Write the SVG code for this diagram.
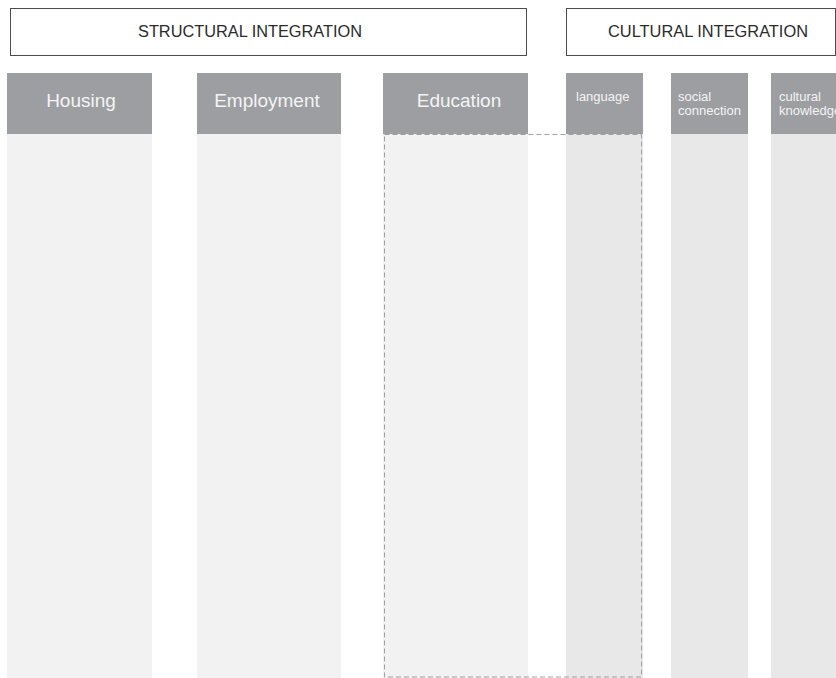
<svg xmlns="http://www.w3.org/2000/svg" width="836" height="678" viewBox="0 0 836 678">
<style>
.band{fill:#ffffff;stroke:#4d4d4d;stroke-width:1}
.bandText{font-family:"Liberation Sans",Arial,sans-serif;font-size:16px;fill:#2b2b2b;text-anchor:middle}
.head{fill:#9d9ea1}
.bodyA{fill:#f2f2f2}
.bodyB{fill:#e8e8e8}
.big{font-family:"Liberation Sans",Arial,sans-serif;font-size:19px;fill:#f4f4f4;text-anchor:middle}
.small{font-family:"Liberation Sans",Arial,sans-serif;font-size:13px;fill:#f4f4f4}
.dash{fill:none;stroke:#a0a0a0;stroke-width:1;stroke-dasharray:5 3}
</style>
<rect width="836" height="678" fill="#ffffff"/>
<g id="structural-integration">
<rect class="band" x="10.5" y="8.5" width="516" height="47"/>
<text class="bandText" x="250" y="37" textLength="224" lengthAdjust="spacingAndGlyphs">STRUCTURAL INTEGRATION</text>
</g>
<g id="cultural-integration">
<rect class="band" x="566.5" y="8.5" width="269" height="47"/>
<text class="bandText" x="708" y="37" textLength="200" lengthAdjust="spacingAndGlyphs">CULTURAL INTEGRATION</text>
</g>
<g id="housing">
<rect class="bodyA" x="7" y="134" width="145" height="544"/>
<rect class="head" x="7" y="73" width="145" height="61"/>
<text class="big" x="81" y="107">Housing</text>
</g>
<g id="employment">
<rect class="bodyA" x="197" y="134" width="144" height="544"/>
<rect class="head" x="197" y="73" width="144" height="61"/>
<text class="big" x="267" y="107">Employment</text>
</g>
<g id="education">
<rect class="bodyA" x="383" y="134" width="145" height="544"/>
<rect class="head" x="383" y="73" width="145" height="61"/>
<text class="big" x="459" y="107">Education</text>
</g>
<g id="language">
<rect class="bodyB" x="566" y="134" width="77" height="544"/>
<rect class="head" x="566" y="73" width="77" height="61"/>
<text class="small" x="576" y="101">language</text>
</g>
<g id="social-connection">
<rect class="bodyB" x="671" y="134" width="77" height="544"/>
<rect class="head" x="671" y="73" width="77" height="61"/>
<text class="small" x="678" y="101">social</text>
<text class="small" x="678" y="115">connection</text>
</g>
<g id="cultural-knowledge">
<rect class="bodyB" x="771" y="134" width="70" height="544"/>
<rect class="head" x="771" y="73" width="70" height="61"/>
<text class="small" x="779" y="101">cultural</text>
<text class="small" x="779" y="115">knowledge</text>
</g>
<g id="connectors">
<rect id="education-language-group" class="dash" x="384.5" y="134.5" width="257" height="542.5"/>
</g>
</svg>
